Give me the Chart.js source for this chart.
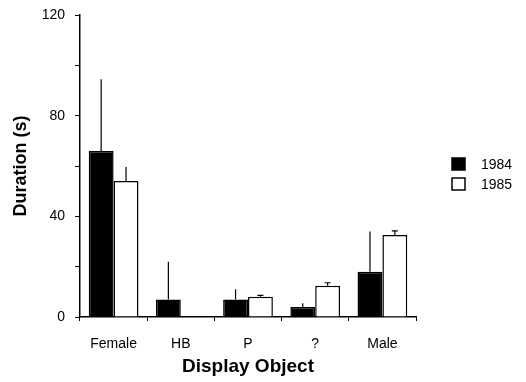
<!DOCTYPE html>
<html>
<head>
<meta charset="utf-8">
<script src="https://cdn.jsdelivr.net/npm/chart.js@4"></script>
<style>
	html, body { margin: 0; padding: 0; background: #fff; }
	#wrap { width: 526px; height: 382px; }
</style>
</head>
<body>
<div id="wrap"><canvas id="myChart"></canvas></div>
<script>
/* data */
const categories = ["Female", "HB", "P", "?", "Male"];
const seriesNames = ["1984", "1985"];
const dur1984 = [66, 7, 7, 4, 18];
const dur1985 = [54, 0, 8, 12.4, 32.6];
const err1984 = [28.5, 15, 4, 1.5, 16];
const err1985 = [5.6, 0, 0.6, 1.2, 1.6];
const yTicks = [0, 40, 80, 120];

const FONT = "'Liberation Sans', Arial, sans-serif";

/* upward error bars */
const errorBars = {
	id: "errorBars",
	afterDatasetsDraw(chart) {
		const ctx = chart.ctx;
		const yScale = chart.scales.y;
		const errs = [err1984, err1985];
		ctx.save();
		ctx.strokeStyle = "#000";
		ctx.lineWidth = 1.2;
		chart.data.datasets.forEach((ds, i) => {
			const meta = chart.getDatasetMeta(i);
			meta.data.forEach((bar, j) => {
				const e = errs[i][j];
				if (!e) return;
				const yTop = yScale.getPixelForValue(ds.data[j] + e);
				ctx.beginPath();
				ctx.moveTo(bar.x, bar.y);
				ctx.lineTo(bar.x, yTop);
				if (i == 1 && j > 1) {
					ctx.moveTo(bar.x - 3, yTop);
					ctx.lineTo(bar.x + 3, yTop);
				}
				ctx.stroke();
			});
		});
		ctx.restore();
	}
};

/* legend at the right */
const sideLegend = {
	id: "sideLegend",
	afterDraw(chart) {
		const ctx = chart.ctx;
		ctx.save();
		ctx.font = "14px " + FONT;
		ctx.textBaseline = "middle";
		chart.data.datasets.forEach((ds, i) => {
			const y = 158 + i * 20;
			ctx.fillStyle = ds.backgroundColor;
			ctx.fillRect(452, y, 13, 12);
			ctx.strokeStyle = "#000";
			ctx.lineWidth = 1.5;
			ctx.strokeRect(452, y, 13, 12);
			ctx.fillStyle = "#000";
			ctx.fillText(ds.label, 481, y + 7);
		});
		ctx.restore();
	}
};

const myChart = new Chart(document.getElementById("myChart"), {
	type: "bar",
	data: {
		labels: categories,
		datasets: [
			{
				label: seriesNames[0],
				data: dur1984,
				backgroundColor: "#000",
				borderColor: "#000",
				borderWidth: 1.5
			},
			{
				label: seriesNames[1],
				data: dur1985,
				backgroundColor: "#fff",
				borderColor: "#000",
				borderWidth: 1.5
			}
		]
	},
	options: {
		responsive: true,
		maintainAspectRatio: false,
		animation: false,
		layout: { padding: { left: 0, right: 110, top: 15, bottom: 0 } },
		datasets: { bar: { categoryPercentage: 0.74, barPercentage: 1.0 } },
		plugins: {
			legend: { display: false },
			tooltip: { enabled: false }
		},
		scales: {
			x: {
				grid: { drawOnChartArea: false, tickLength: 4, color: "#000", offset: true },
				border: { color: "#000", width: 1.5 },
				ticks: { color: "#000", font: { family: FONT, size: 14 }, padding: 15 },
				title: {
					display: true,
					text: "Display Object",
					color: "#000",
					font: { family: FONT, size: 19, weight: "bold" },
					padding: { top: 5 }
				},
				afterFit(scale) { scale.height = 65; }
			},
			y: {
				min: 0,
				max: 120,
				grid: { drawOnChartArea: false, tickLength: 5, color: "#000" },
				border: { color: "#000", width: 1.5 },
				ticks: {
					stepSize: 20,
					color: "#000",
					font: { family: FONT, size: 14 },
					padding: 10,
					callback: (v) => yTicks.includes(v) ? v : ""
				},
				title: {
					display: true,
					text: "Duration (s)",
					color: "#000",
					font: { family: FONT, size: 18, weight: "bold" },
					padding: { top: 10, bottom: 0 }
				},
				afterFit(scale) {
					scale.width = 80;
					scale.paddingTop = 0;
					scale.paddingBottom = 0;
				}
			}
		}
	},
	plugins: [errorBars, sideLegend]
});
</script>
</body>
</html>
